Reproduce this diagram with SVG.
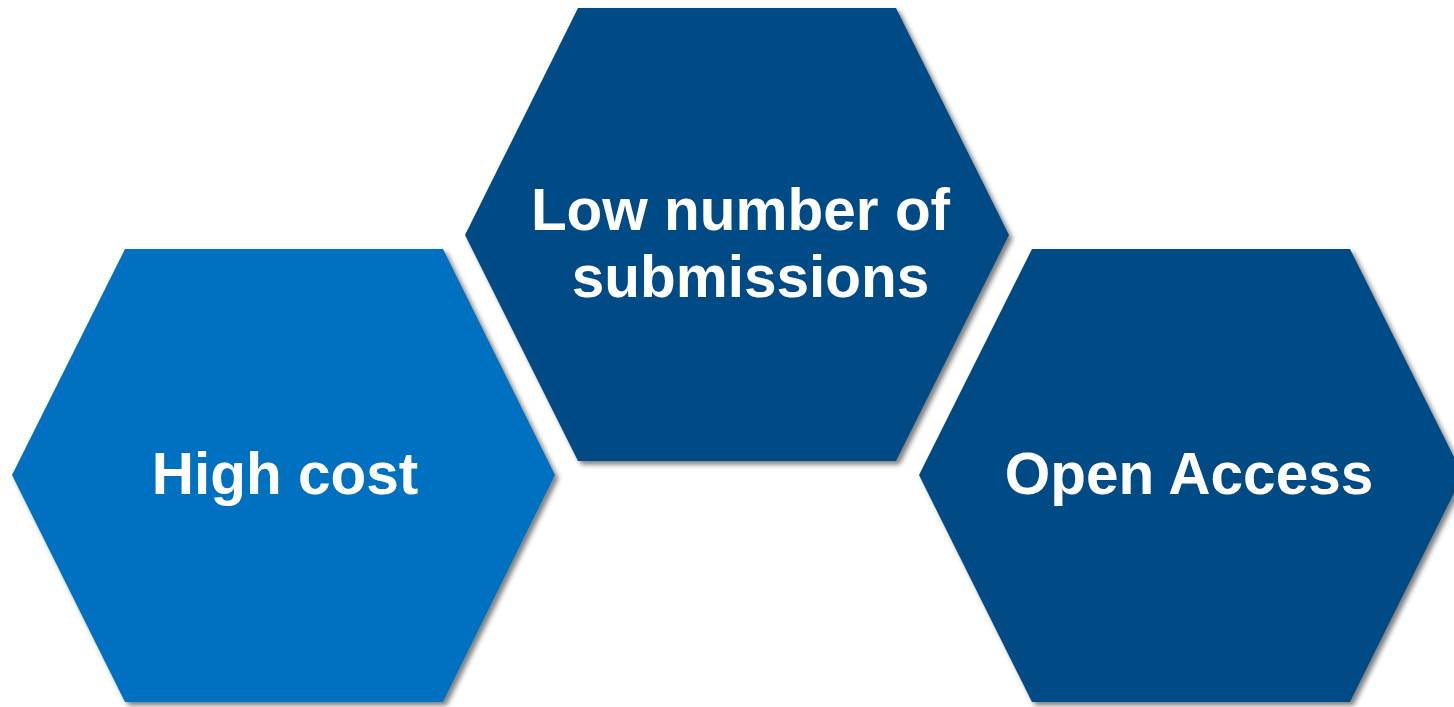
<svg xmlns="http://www.w3.org/2000/svg" width="1454" height="707" viewBox="0 0 1454 707">
  <defs>
    <filter id="sh" x="-5%" y="-5%" width="110%" height="110%">
      <feDropShadow dx="3.5" dy="3.5" stdDeviation="2.5" flood-color="#000" flood-opacity="0.5"/>
    </filter>
    <style>
      .hex { filter: url(#sh); }
      .light { fill: #0070C0; }
      .dark { fill: #034B85; }
      .lbl { font-family: "Liberation Sans", Arial, sans-serif; font-weight: bold; font-size: 58.5px; fill: #FFFFFF; text-anchor: middle; }
    </style>
  </defs>
  <rect width="1454" height="707" fill="#FFFFFF"/>
  <g id="node-high-cost">
    <polygon class="hex light" points="12,475 125,249 443,249 555,475 443,702 125,702"/>
    <text class="lbl" x="285" y="494">High cost</text>
  </g>
  <g id="node-low-submissions">
    <polygon class="hex dark" points="465,235 578,8 896,8 1009,235 896,461 578,461"/>
    <text class="lbl" x="740.5" y="230">Low number of</text>
    <text class="lbl" x="750.5" y="297">submissions</text>
  </g>
  <g id="node-open-access">
    <polygon class="hex dark" points="919,475 1032,249 1350,249 1463,475 1350,702 1032,702"/>
    <text class="lbl" x="1189" y="494">Open Access</text>
  </g>
  <g id="connectors"></g>
</svg>
